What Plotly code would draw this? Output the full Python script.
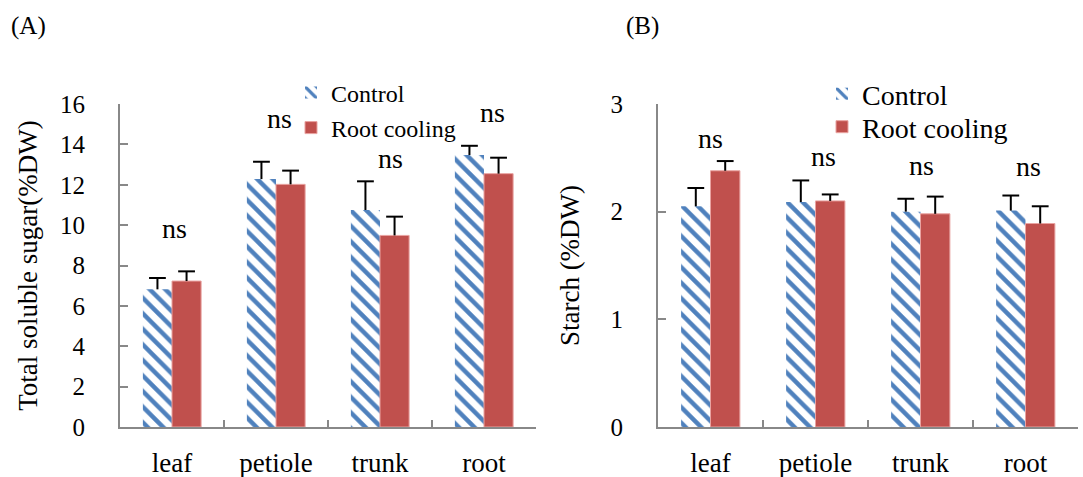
import plotly.graph_objects as go

# ---------------- data ----------------
categories = ["leaf", "petiole", "trunk", "root"]

sugar_control = [6.82, 12.28, 10.75, 13.47]
sugar_control_err = [0.56, 0.86, 1.42, 0.46]
sugar_cooling = [7.23, 12.02, 9.49, 12.55]
sugar_cooling_err = [0.48, 0.68, 0.93, 0.79]
sugar_ns_y = [9.85, 15.3, 13.3, 15.6]

starch_control = [2.05, 2.09, 2.00, 2.01]
starch_control_err = [0.17, 0.20, 0.12, 0.14]
starch_cooling = [2.38, 2.10, 1.98, 1.89]
starch_cooling_err = [0.09, 0.06, 0.16, 0.16]
starch_ns_y = [2.68, 2.51, 2.43, 2.42]

sig_labels = ["ns", "ns", "ns", "ns"]
series_names = ["Control", "Root cooling"]

# ---------------- style ----------------
W, H = 1083, 477
FONT = "Liberation Serif"
BLUE = "#4F81BD"
RED = "#C0504D"
AXIS = "#888888"


def px_x(p):
    return p / W


def px_y(p):
    return 1 - p / H


fig = go.Figure()


def add_panel(xa, ya, ctrl, ctrl_err, cool, cool_err, leg_c, leg_r):
    fig.add_trace(go.Bar(
        x=categories, y=ctrl, name=series_names[0], xaxis=xa, yaxis=ya,
        legend=leg_c, offsetgroup="c",
        marker=dict(color="white", line=dict(width=0),
                    pattern=dict(shape="\\", fgcolor=BLUE, bgcolor="white",
                                 size=11, solidity=0.4, fillmode="replace")),
    ))
    fig.add_trace(go.Bar(
        x=categories, y=cool, name=series_names[1], xaxis=xa, yaxis=ya,
        legend=leg_r, offsetgroup="r",
        marker=dict(color=RED, line=dict(width=1, color="#E9A3A1")),
    ))
    for vals, errs, grp in ((ctrl, ctrl_err, "c"), (cool, cool_err, "r")):
        tops = [v + e for v, e in zip(vals, errs)]
        fig.add_trace(go.Scatter(
            x=categories, y=tops, xaxis=xa, yaxis=ya, mode="markers",
            offsetgroup=grp, showlegend=False, hoverinfo="skip",
            marker=dict(symbol="line-ew", size=12, color="black",
                        line=dict(width=2, color="black")),
            error_y=dict(type="data", symmetric=False, array=[0] * len(errs),
                         arrayminus=errs, width=0, thickness=2, color="black"),
        ))


add_panel("x", "y", sugar_control, sugar_control_err,
          sugar_cooling, sugar_cooling_err, "legend", "legend3")
add_panel("x2", "y2", starch_control, starch_control_err,
          starch_cooling, starch_cooling_err, "legend2", "legend4")

ydom = [px_y(427), px_y(104)]

xcommon = dict(type="category", showline=True, linecolor=AXIS, linewidth=2,
               ticks="inside", tickson="boundaries", ticklen=7, tickwidth=2,
               tickcolor=AXIS, showgrid=False, zeroline=False,
               tickfont=dict(family=FONT, size=27, color="black"),
               ticklabelstandoff=11, automargin=False)
ycommon = dict(showline=True, linecolor=AXIS, linewidth=2, ticks="inside",
               ticklen=8, tickwidth=2, tickcolor=AXIS, showgrid=False,
               zeroline=False, tickfont=dict(family=FONT, size=25, color="black"),
               ticklabelstandoff=28, automargin=False, domain=ydom)


def leg(x, yc, size):
    return dict(x=px_x(x), y=px_y(yc), xanchor="left", yanchor="middle",
                bgcolor="rgba(0,0,0,0)", borderwidth=0,
                font=dict(family=FONT, size=size, color="black"),
                itemwidth=30, tracegroupgap=0)


fig.update_layout(
    width=W, height=H,
    margin=dict(l=0, r=0, t=0, b=0),
    paper_bgcolor="white", plot_bgcolor="white",
    barmode="group", bargap=0.44, bargroupgap=0,
    scattermode="group", scattergap=0.44,
    font=dict(family=FONT, color="black"),
    xaxis=dict(domain=[px_x(120), px_x(536)], anchor="y", **xcommon),
    xaxis2=dict(domain=[px_x(658), px_x(1078)], anchor="y2", **xcommon),
    yaxis=dict(anchor="x", range=[0, 16], dtick=2,
               title=dict(text="Total soluble sugar(%DW)", standoff=15,
                          font=dict(family=FONT, size=27, color="black")),
               **ycommon),
    yaxis2=dict(anchor="x2", range=[0, 3], dtick=1,
                title=dict(text="Starch (%DW)", standoff=23,
                           font=dict(family=FONT, size=27, color="black")),
                **ycommon),
    legend=leg(291, 93, 24),
    legend3=leg(291, 128, 24),
    legend2=leg(822, 94, 28),
    legend4=leg(822, 127, 28),
    showlegend=True,
)

annotations = []
sugar_shift = [2, 3, 10, 8]
for c, y, t, s in zip(categories, sugar_ns_y, sig_labels, sugar_shift):
    annotations.append(dict(x=c, y=y, xref="x", yref="y", text=t, showarrow=False,
                            xshift=s, font=dict(family=FONT, size=28, color="black")))
starch_shift = [0, 8, 1, 3]
for c, y, t, s in zip(categories, starch_ns_y, sig_labels, starch_shift):
    annotations.append(dict(x=c, y=y, xref="x2", yref="y2", text=t, showarrow=False,
                            xshift=s, font=dict(family=FONT, size=28, color="black")))
annotations.append(dict(x=px_x(9), y=px_y(26), xref="paper", yref="paper",
                        text="(A)", showarrow=False, xanchor="left", yanchor="middle",
                        font=dict(family=FONT, size=25, color="black")))
annotations.append(dict(x=px_x(624), y=px_y(26), xref="paper", yref="paper",
                        text="(B)", showarrow=False, xanchor="left", yanchor="middle",
                        font=dict(family=FONT, size=25, color="black")))
fig.update_layout(annotations=annotations)

fig.write_html("out.html", config={"displayModeBar": False},
               post_script="document.body.style.margin='0';document.body.style.overflow='hidden';")
